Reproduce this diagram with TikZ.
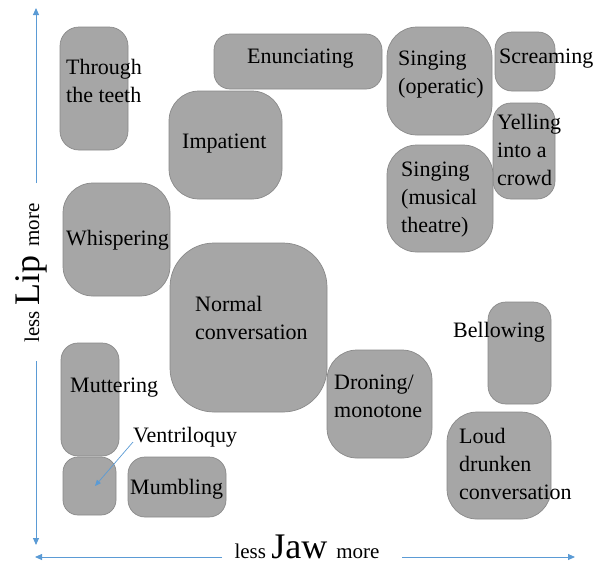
\documentclass[tikz,border=0pt]{standalone}
\usepackage{fontspec}
\setmainfont{Liberation Serif}
\usetikzlibrary{arrows.meta,positioning,calc}
\definecolor{boxgray}{RGB}{166,166,166}
\definecolor{boxedge}{RGB}{137,137,137}
\definecolor{axisblue}{RGB}{91,155,213}
\newcommand{\labelfont}{\fontsize{22}{28}\selectfont}
\newcommand{\axissmall}{\fontsize{21}{25}\selectfont}
\newcommand{\axisbig}{\fontsize{36}{40}\selectfont}

\begin{document}
\begin{tikzpicture}[x=1pt,y=-1pt,
  voice/.style={draw=boxedge, line width=0.7pt, fill=boxgray, inner sep=0pt, rounded corners=#1},
  voicetext/.style={anchor=base west, align=left, inner sep=0pt, font=\labelfont},
  axisarrow/.style={draw=axisblue, line width=0.9pt, -{Triangle[length=7pt,width=6pt]}},
  pointer/.style={draw=axisblue, line width=0.7pt, -{Triangle[length=6pt,width=5pt]}}]
  \useasboundingbox (0,0) rectangle (596,566);
  \foreach \boxid/\cx/\cy/\w/\h/\r in {teeth/94/88.5/68/123/19, enunc/298/61.5/168/55/16,
      impat/225.5/145/113/108/30, operatic/439.5/81/105/108/30, scream/525/61.5/60/59/17,
      yell/524/151/62/96/18, musical/440/198.5/106/107/30, whisper/116.5/239.5/107/113/30,
      normal/248.5/327.5/157/169/44, mutter/90/399.5/58/113/17, ventril/89.5/486/53/58/15,
      mumble/177/487/98/60/17, droning/379.5/404/105/108/30, bellow/519.5/353/63/102/18,
      loud/499/465.5/104/107/30} {
    \node[voice=\r, minimum width=\w, minimum height=\h] (\boxid) at (\cx,\cy) {};
  }
  % y is the baseline of the last line
  \foreach \boxid/\lx/\ly/\txt in {teeth/66/102/{Through\\the teeth}, enunc/247/63/{Enunciating},
      impat/182/148/{Impatient}, operatic/398/93/{Singing\\(operatic)}, scream/499/63/{Screaming},
      yell/497/185/{Yelling\\into a\\crowd}, musical/401/232/{Singing\\(musical\\theatre)},
      whisper/66/245/{Whispering}, normal/195/339/{Normal\\conversation}, mutter/70/392/{Muttering},
      ventril/133/442/{Ventriloquy}, mumble/130/494/{Mumbling}, droning/334/417/{Droning/\\monotone},
      bellow/453/337/{Bellowing}, loud/459/499/{Loud\\drunken\\conversation}} {
    \node[voicetext] (\boxid-text) at (\lx,\ly) {\txt};
  }
  \coordinate (ventril-tip) at (95,486);
  \draw[pointer] (ventril-text.base west) -- (ventril-tip);

  \node[rotate=90, anchor=base, inner sep=0pt] (lipaxis) at (39,273) {\axissmall less \axisbig Lip \axissmall more};
  \node[anchor=base, inner sep=0pt] (jawaxis) at (307,558) {\axissmall less \axisbig Jaw \axissmall more};
  \coordinate (lip-up) at (36,8);
  \coordinate (lip-upbase) at (36,183);
  \coordinate (lip-downbase) at (36,361);
  \coordinate (lip-down) at (36,545);
  \coordinate (jaw-left) at (35,557);
  \coordinate (jaw-leftbase) at (222,557);
  \coordinate (jaw-rightbase) at (402,557);
  \coordinate (jaw-right) at (575,557);
  \draw[axisarrow] (lip-upbase) -- (lip-up);
  \draw[axisarrow] (lip-downbase) -- (lip-down);
  \draw[axisarrow] (jaw-leftbase) -- (jaw-left);
  \draw[axisarrow] (jaw-rightbase) -- (jaw-right);
\end{tikzpicture}
\end{document}
